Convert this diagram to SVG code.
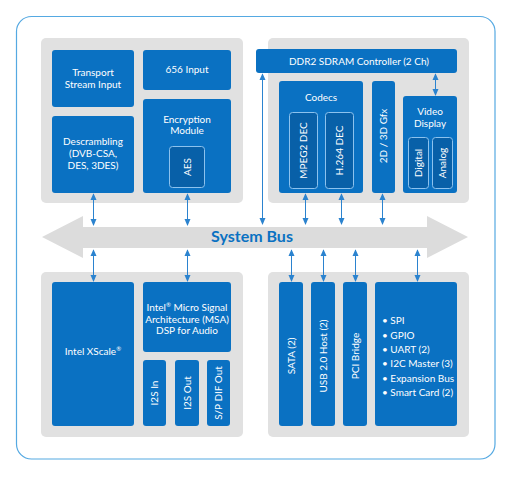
<svg xmlns="http://www.w3.org/2000/svg" width="512" height="480" viewBox="0 0 512 480">
<style>
.panel{fill:#e1e1e1}
.box{fill:#0a71c2}
.inner{fill:#0860a8;stroke:#8cc2ee;stroke-width:1}
.t{font-family:Lato,"Liberation Sans",sans-serif;font-size:10px;fill:#ffffff;text-anchor:middle}
.l{font-family:Lato,"Liberation Sans",sans-serif;font-size:10px;fill:#ffffff}
.bus{font-family:Lato,"Liberation Sans",sans-serif;font-size:16px;font-weight:bold;fill:#0a71c2;text-anchor:middle}
.c{stroke:#2b83cf;stroke-width:1;fill:none;marker-start:url(#ah);marker-end:url(#ah)}
</style>
<defs>
<marker id="ah" viewBox="0 0 8 8" refX="7" refY="4" markerWidth="7" markerHeight="7" markerUnits="userSpaceOnUse" orient="auto-start-reverse">
<path d="M0,0.5 L8,4 L0,7.5 z" fill="#2b83cf"/>
</marker>
</defs>
<rect width="512" height="480" fill="#ffffff"/>
<rect x="16.5" y="16.5" width="478.5" height="442.5" rx="15" fill="#ffffff" stroke="#55a9e2" stroke-width="1.2"/>
<rect class="panel" x="41" y="38" width="202" height="165" rx="5"/>
<rect class="panel" x="268" y="38" width="201" height="165" rx="5"/>
<rect class="panel" x="41" y="272" width="202" height="165" rx="5"/>
<rect class="panel" x="268" y="272" width="201" height="165" rx="5"/>
<g id="system-bus">
<polygon points="42,237 83,216 83,227 427,227 427,216 468,237 427,258 427,248 83,248 83,258" fill="#dcdcdc"/>
<text class="bus" x="252" y="242">System Bus</text>
</g>
<g id="transport">
<rect class="box" x="52" y="50" width="82" height="57" rx="3"/>
<text class="t" x="93" y="76">Transport</text>
<text class="t" x="93" y="88">Stream Input</text>
</g>
<g id="input656">
<rect class="box" x="143" y="50" width="88" height="40" rx="3"/>
<text class="t" x="187" y="73">656 Input</text>
</g>
<g id="descrambling">
<rect class="box" x="52" y="116" width="82" height="77" rx="3"/>
<text class="t" x="93" y="145">Descrambling</text>
<text class="t" x="93" y="157">(DVB-CSA,</text>
<text class="t" x="93" y="169">DES, 3DES)</text>
</g>
<g id="encryption">
<rect class="box" x="143" y="99" width="88" height="94" rx="3"/>
<text class="t" x="187" y="123">Encryption</text>
<text class="t" x="187" y="134">Module</text>
</g>
<g id="aes">
<rect class="inner" x="169.5" y="146.5" width="35" height="41" rx="3"/>
<text class="t" transform="translate(190.5,167) rotate(-90)">AES</text>
</g>
<g id="ddr2">
<rect class="box" x="256" y="49" width="201" height="24" rx="3"/>
<text class="t" x="359" y="65">DDR2 SDRAM Controller (2 Ch)</text>
</g>
<g id="codecs">
<rect class="box" x="279" y="81" width="84" height="112" rx="3"/>
<text class="t" x="321" y="101">Codecs</text>
</g>
<g id="mpeg2">
<rect class="inner" x="289.5" y="112.5" width="28" height="76" rx="3"/>
<text class="t" transform="translate(307,150.5) rotate(-90)">MPEG2 DEC</text>
</g>
<g id="h264">
<rect class="inner" x="325.5" y="112.5" width="28" height="76" rx="3"/>
<text class="t" transform="translate(343,150.5) rotate(-90)">H.264 DEC</text>
</g>
<g id="gfx">
<rect class="box" x="372" y="81" width="23" height="112" rx="3"/>
<text class="t" transform="translate(387,136) rotate(-90)">2D / 3D Gfx</text>
</g>
<g id="video-display">
<rect class="box" x="403" y="96" width="54" height="97" rx="3"/>
<text class="t" x="430" y="115">Video</text>
<text class="t" x="430" y="127">Display</text>
</g>
<g id="digital">
<rect class="inner" x="408.5" y="137.5" width="20" height="51" rx="3"/>
<text class="t" transform="translate(422,163) rotate(-90)">Digital</text>
</g>
<g id="analog">
<rect class="inner" x="432.5" y="137.5" width="20" height="51" rx="3"/>
<text class="t" transform="translate(446,163) rotate(-90)">Analog</text>
</g>
<g id="xscale">
<rect class="box" x="52" y="282" width="82" height="144" rx="3"/>
<text class="t" x="93" y="355">Intel XScale<tspan font-size="6" dy="-4">®</tspan></text>
</g>
<g id="msa">
<rect class="box" x="143" y="282" width="88" height="70" rx="3"/>
<text class="t" x="187" y="311">Intel<tspan font-size="6" dy="-4">®</tspan><tspan dy="4"> Micro Signal</tspan></text>
<text class="t" x="187" y="323">Architecture (MSA)</text>
<text class="t" x="187" y="334">DSP for Audio</text>
</g>
<g id="i2s-in">
<rect class="box" x="143" y="360" width="23" height="66" rx="3"/>
<text class="t" transform="translate(158,393) rotate(-90)">I2S In</text>
</g>
<g id="i2s-out">
<rect class="box" x="175" y="360" width="24" height="66" rx="3"/>
<text class="t" transform="translate(190.5,393) rotate(-90)">I2S Out</text>
</g>
<g id="spdif">
<rect class="box" x="207" y="360" width="23" height="66" rx="3"/>
<text class="t" transform="translate(222,393) rotate(-90)">S/P DIF Out</text>
</g>
<g id="sata">
<rect class="box" x="279" y="282" width="24" height="144" rx="3"/>
<text class="t" transform="translate(294.5,356) rotate(-90)">SATA (2)</text>
</g>
<g id="usb">
<rect class="box" x="311" y="282" width="24" height="144" rx="3"/>
<text class="t" transform="translate(326.5,356) rotate(-90)">USB 2.0 Host (2)</text>
</g>
<g id="pci">
<rect class="box" x="343" y="282" width="24" height="144" rx="3"/>
<text class="t" transform="translate(358.5,356) rotate(-90)">PCI Bridge</text>
</g>
<g id="peripherals">
<rect class="box" x="375" y="282" width="82" height="144" rx="3"/>
<text class="l" x="382" y="324">• SPI</text>
<text class="l" x="382" y="338.5">• GPIO</text>
<text class="l" x="382" y="353">• UART (2)</text>
<text class="l" x="382" y="367">• I2C Master (3)</text>
<text class="l" x="382" y="381.5">• Expansion Bus</text>
<text class="l" x="382" y="396">• Smart Card (2)</text>
</g>
<g id="connectors">
<line class="c" x1="93.5" y1="194" x2="93.5" y2="225"/>
<line class="c" x1="187.5" y1="194" x2="187.5" y2="225"/>
<line class="c" x1="262.5" y1="74" x2="262.5" y2="224"/>
<line class="c" x1="305.5" y1="194" x2="305.5" y2="224"/>
<line class="c" x1="341.5" y1="194" x2="341.5" y2="224"/>
<line class="c" x1="382.5" y1="194" x2="382.5" y2="224"/>
<line class="c" x1="435.5" y1="74" x2="435.5" y2="95"/>
<line class="c" x1="93.5" y1="250" x2="93.5" y2="281"/>
<line class="c" x1="187.5" y1="250" x2="187.5" y2="281"/>
<line class="c" x1="291.5" y1="250" x2="291.5" y2="281"/>
<line class="c" x1="323.5" y1="250" x2="323.5" y2="281"/>
<line class="c" x1="355.5" y1="250" x2="355.5" y2="281"/>
<line class="c" x1="417.5" y1="250" x2="417.5" y2="281"/>
</g>
</svg>
